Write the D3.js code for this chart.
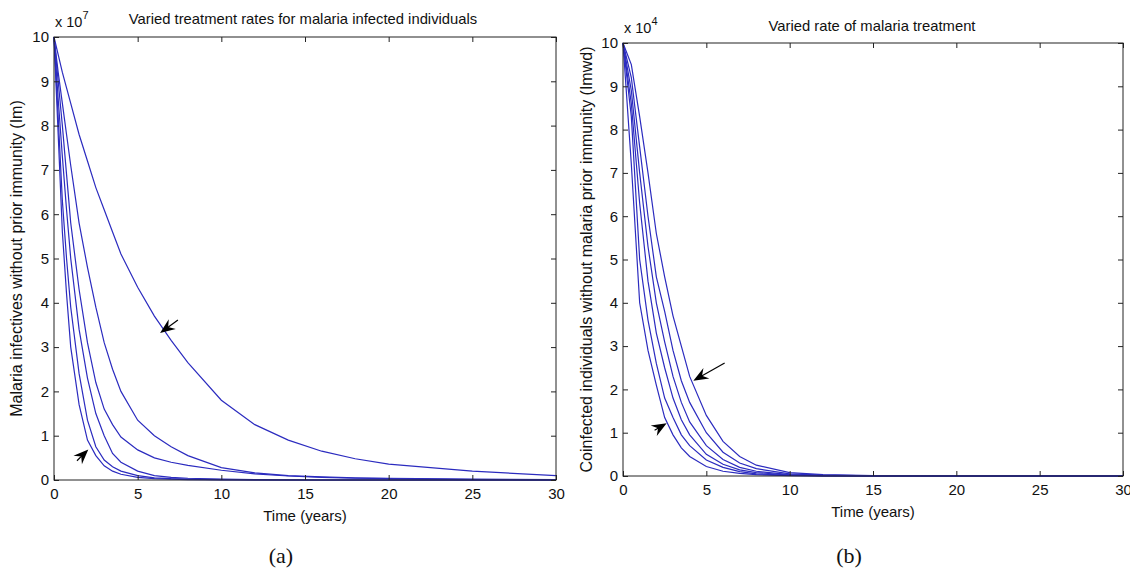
<!DOCTYPE html>
<html>
<head>
<meta charset="utf-8">
<script src="https://cdn.jsdelivr.net/npm/d3@7"></script>
<style>
  body { margin: 0; background: #fff; }
  svg text { font-family: "Liberation Sans", Arial, sans-serif; fill: #111; }
</style>
</head>
<body>
<script>
// Panel (a): malaria infectives without prior immunity, x 10^7
var imTimes = [0, 0.25, 0.5, 0.75, 1, 1.5, 2, 2.5, 3, 3.5, 4, 5, 6, 7, 8, 10, 12, 14, 16, 18, 20, 25, 30];
var im1 = [10, 7.8, 5.6, 4.2, 3.0, 1.7, 0.9, 0.55, 0.32, 0.2, 0.13, 0.06, 0.03, 0.02, 0.01, 0.005, 0, 0, 0, 0, 0, 0, 0];
var im2 = [10, 8.2, 6.3, 5.0, 3.9, 2.4, 1.35, 0.75, 0.45, 0.3, 0.2, 0.1, 0.05, 0.03, 0.02, 0.01, 0.005, 0, 0, 0, 0, 0, 0];
var im3 = [10, 8.6, 7.3, 6.1, 5.0, 3.4, 2.3, 1.5, 1.0, 0.6, 0.4, 0.2, 0.1, 0.06, 0.04, 0.02, 0.01, 0.005, 0, 0, 0, 0, 0];
var im4 = [10, 9.0, 8.0, 6.9, 5.8, 4.3, 3.1, 2.2, 1.6, 1.25, 0.97, 0.68, 0.5, 0.4, 0.33, 0.22, 0.14, 0.09, 0.06, 0.04, 0.03, 0.01, 0.005];
var im5 = [10, 9.2, 8.5, 7.8, 7.1, 5.8, 4.8, 3.9, 3.1, 2.5, 2.0, 1.35, 1.0, 0.75, 0.55, 0.28, 0.16, 0.1, 0.07, 0.05, 0.04, 0.02, 0.01];
var im6 = [10, 9.6, 9.2, 8.85, 8.5, 7.8, 7.2, 6.6, 6.1, 5.6, 5.1, 4.35, 3.7, 3.15, 2.65, 1.8, 1.25, 0.9, 0.65, 0.48, 0.36, 0.2, 0.1];

// Panel (b): coinfected individuals without malaria prior immunity, x 10^4
var imwdTimes = [0, 0.5, 1, 1.5, 2, 2.5, 3, 3.5, 4, 5, 6, 7, 8, 10, 12, 15, 20, 30];
var imwd1 = [10, 7.2, 4.0, 2.9, 2.1, 1.35, 0.95, 0.65, 0.45, 0.22, 0.11, 0.06, 0.03, 0.01, 0, 0, 0, 0];
var imwd2 = [10, 8.3, 5.0, 3.6, 2.6, 1.8, 1.35, 0.95, 0.7, 0.37, 0.2, 0.1, 0.05, 0.015, 0.005, 0, 0, 0];
var imwd3 = [10, 8.6, 6.3, 4.5, 3.3, 2.5, 1.8, 1.3, 0.95, 0.5, 0.27, 0.14, 0.08, 0.02, 0.01, 0, 0, 0];
var imwd4 = [10, 8.9, 7.0, 5.3, 4.0, 3.1, 2.3, 1.7, 1.25, 0.7, 0.38, 0.2, 0.11, 0.03, 0.01, 0, 0, 0];
var imwd5 = [10, 9.2, 7.6, 6.0, 4.6, 3.8, 2.9, 2.2, 1.7, 1.0, 0.55, 0.3, 0.17, 0.05, 0.02, 0.005, 0, 0];
var imwd6 = [10, 9.5, 8.3, 7.0, 5.6, 4.6, 3.7, 3.0, 2.3, 1.4, 0.8, 0.45, 0.25, 0.08, 0.03, 0.01, 0, 0];

var xTicks = [0, 5, 10, 15, 20, 25, 30];
var yTicks = [0, 1, 2, 3, 4, 5, 6, 7, 8, 9, 10];

var svg = d3.select('body').append('svg')
    .attr('width', 1130)
    .attr('height', 574);

function drawPanel(p) {
    var x = d3.scaleLinear().domain([0, 30]).range([p.left, p.right]),
        y = d3.scaleLinear().domain([0, 10]).range([p.bottom, p.top]);

    var g = svg.append('g');

    // curves
    var line = d3.line()
        .x(function(d) { return x(d[0]); })
        .y(function(d) { return y(d[1]); });

    p.series.forEach(function(s) {
        g.append('path')
            .attr('d', line(p.times.map(function(t, i) { return [t, s[i]]; })))
            .attr('fill', 'none')
            .attr('stroke', '#2b2bbf')
            .attr('stroke-width', 1.2);
    });

    // axes with inward ticks on all four sides
    g.append('g')
        .attr('transform', 'translate(0,' + p.bottom + ')')
        .call(d3.axisBottom(x).tickValues(xTicks).tickSizeInner(-5).tickSizeOuter(0).tickPadding(8));
    g.append('g')
        .attr('transform', 'translate(' + p.left + ',0)')
        .call(d3.axisLeft(y).tickValues(yTicks).tickSizeInner(-5).tickSizeOuter(0).tickPadding(5));
    g.append('g')
        .attr('transform', 'translate(0,' + p.top + ')')
        .call(d3.axisTop(x).tickValues(xTicks).tickSizeInner(-5).tickSizeOuter(0).tickFormat(''));
    g.append('g')
        .attr('transform', 'translate(' + p.right + ',0)')
        .call(d3.axisRight(y).tickValues(yTicks).tickSizeInner(-5).tickSizeOuter(0).tickFormat(''));

    g.selectAll('.domain').remove();
    g.selectAll('.tick line').attr('stroke', '#222');
    g.selectAll('.tick text')
        .attr('font-family', '"Liberation Sans", Arial, sans-serif')
        .attr('font-size', 15)
        .attr('fill', '#111');

    g.append('rect')
        .attr('x', p.left).attr('y', p.top)
        .attr('width', p.right - p.left).attr('height', p.bottom - p.top)
        .attr('fill', 'none').attr('stroke', '#222').attr('stroke-width', 1);

    // exponent label
    var ex = g.append('text')
        .attr('x', p.left + 1).attr('y', p.top - 10)
        .attr('font-size', 14.5);
    ex.append('tspan').text('x 10');
    ex.append('tspan').attr('dy', -8).attr('font-size', 11).text(p.exp);

    g.append('text')
        .attr('x', p.titleX).attr('y', p.titleY)
        .attr('text-anchor', 'middle')
        .attr('font-size', 14.8)
        .text(p.title);

    g.append('text')
        .attr('x', (p.left + p.right) / 2).attr('y', p.bottom + 41)
        .attr('text-anchor', 'middle')
        .attr('font-size', 15)
        .text('Time (years)');

    g.append('text')
        .attr('transform', 'translate(' + p.ylabX + ',' + (p.top + p.bottom) / 2 + ') rotate(-90)')
        .attr('text-anchor', 'middle')
        .attr('font-size', 16)
        .text(p.ylab);

    g.append('text')
        .attr('x', p.tagX).attr('y', 563)
        .attr('text-anchor', 'middle')
        .attr('font-size', 22)
        .style('font-family', '"Liberation Serif", "Times New Roman", serif')
        .text(p.tag);

    // arrow annotations: tip in data units, direction of travel in px
    p.arrows.forEach(function(a) {
        var tx = x(a.t), ty = y(a.v);
        var ang = Math.atan2(a.dy, a.dx) * 180 / Math.PI;
        var ag = g.append('g')
            .attr('transform', 'translate(' + tx + ',' + ty + ') rotate(' + ang + ')');
        if (a.tail > 0) {
            ag.append('line')
                .attr('x1', -a.tail).attr('y1', 0).attr('x2', -6).attr('y2', 0)
                .attr('stroke', '#000').attr('stroke-width', 1.2);
        }
        ag.append('path')
            .attr('d', 'M0,0 L-15,-6 L-10,0 L-15,6 Z')
            .attr('fill', '#000');
    });
}

drawPanel({
    left: 54, right: 556, top: 37, bottom: 480,
    times: imTimes,
    series: [im1, im2, im3, im4, im5, im6],
    exp: '7',
    title: 'Varied treatment rates for malaria infected individuals',
    titleX: 303, titleY: 24,
    ylab: 'Malaria infectives without prior immunity (Im)',
    ylabX: 22,
    tag: '(a)', tagX: 281,
    arrows: [
        {t: 6.34, v: 3.32, dx: -18, dy: 13, tail: 22},
        {t: 2.05, v: 0.69, dx: 13, dy: -13, tail: 16}
    ]
});

drawPanel({
    left: 623, right: 1123, top: 43, bottom: 476,
    times: imwdTimes,
    series: [imwd1, imwd2, imwd3, imwd4, imwd5, imwd6],
    exp: '4',
    title: 'Varied rate of malaria treatment',
    titleX: 872, titleY: 31,
    ylab: 'Coinfected individuals without malaria prior immunity (Imwd)',
    ylabX: 592,
    tag: '(b)', tagX: 849,
    arrows: [
        {t: 4.22, v: 2.2, dx: -30, dy: 17, tail: 36},
        {t: 2.62, v: 1.22, dx: 17, dy: -10, tail: 14}
    ]
});
</script>
</body>
</html>
